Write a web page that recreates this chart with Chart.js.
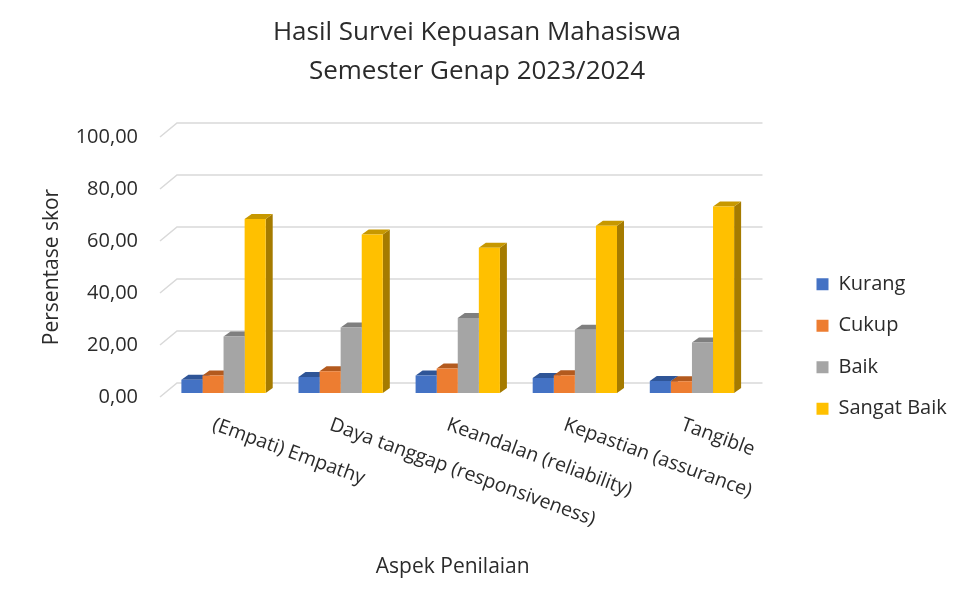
<!DOCTYPE html>
<html>
<head>
<meta charset="utf-8">
<script src="https://cdn.jsdelivr.net/npm/chart.js@4.4.1/dist/chart.umd.min.js"></script>
<style>
  html, body { margin: 0; padding: 0; background: #fff; }
  #wrap { width: 962px; height: 597px; }
</style>
</head>
<body>
<div id="wrap"><canvas id="chart"></canvas></div>
<script>
// categories and series
const aspects = [
    '(Empati) Empathy',
    'Daya tanggap (responsiveness)',
    'Keandalan (reliability)',
    'Kepastian (assurance)',
    'Tangible',
];
const kurang = [5.1, 6.2, 6.7, 5.8, 4.6];
const cukup = [6.7, 8.4, 9.4, 6.8, 4.5];
const baik = [21.7, 25.2, 28.8, 24.3, 19.4];
const sangatBaik = [66.9, 61.0, 55.9, 64.3, 71.7];
const seriesNames = ['Kurang', 'Cukup', 'Baik', 'Sangat Baik'];

const frontColors = ['#4472C4', '#ED7D31', '#A5A5A5', '#FFC000'];
const topColors = ['#2F5597', '#B35A1E', '#7F7F7F', '#C79800'];
const sideColors = ['#2A4C86', '#9E4F1A', '#6E6E6E', '#A57B00'];

const FONT = 'Open Sans';
const TEXT = '#2b2b2b';

// 3d look: back wall offset, bar shift and bar depth
const WALL_DX = 17, WALL_DY = 14;
const SHIFT_X = 5, SHIFT_Y = 4;
const DEPTH_X = 7, DEPTH_Y = 5;

const fmt = v => v.toFixed(2).replace('.', ',');

const bar3d = {
    id: 'bar3d',
    beforeDatasetsDraw(chart) {
        const {ctx, chartArea} = chart;
        const yScale = chart.scales.y;

        // gridlines on the back wall with the little slant on the left
        ctx.save();
        ctx.strokeStyle = '#d9d9d9';
        ctx.lineWidth = 1.5;
        yScale.ticks.forEach(t => {
            const py = yScale.getPixelForValue(t.value);
            ctx.beginPath();
            ctx.moveTo(chartArea.left, py);
            ctx.lineTo(chartArea.left + WALL_DX, py - WALL_DY);
            ctx.lineTo(chartArea.right + WALL_DX, py - WALL_DY);
            ctx.stroke();
        });
        ctx.restore();

        // bars sit a bit behind the front plane
        ctx.save();
        ctx.translate(SHIFT_X, -SHIFT_Y);
        const metas = chart.data.datasets.map((d, i) => chart.getDatasetMeta(i));
        for (let j = 0; j < aspects.length; j++) {
            metas.forEach((meta, i) => {
                const el = meta.data[j];
                const p = el.getProps(['x', 'y', 'base', 'width'], true);
                const l = p.x - p.width / 2, r = p.x + p.width / 2;

                ctx.fillStyle = sideColors[i];
                ctx.beginPath();
                ctx.moveTo(r, p.y);
                ctx.lineTo(r + DEPTH_X, p.y - DEPTH_Y);
                ctx.lineTo(r + DEPTH_X, p.base - DEPTH_Y);
                ctx.lineTo(r, p.base);
                ctx.closePath();
                ctx.fill();

                ctx.fillStyle = topColors[i];
                ctx.beginPath();
                ctx.moveTo(l, p.y);
                ctx.lineTo(l + DEPTH_X, p.y - DEPTH_Y);
                ctx.lineTo(r + DEPTH_X, p.y - DEPTH_Y);
                ctx.lineTo(r, p.y);
                ctx.closePath();
                ctx.fill();
            });
        }
    },
    afterDatasetsDraw(chart) {
        chart.ctx.restore();
    },
    afterDraw(chart) {
        // category labels slanting down to the right
        const {ctx} = chart;
        const xScale = chart.scales.x;
        ctx.save();
        ctx.fillStyle = TEXT;
        ctx.font = '19.5px "' + FONT + '"';
        ctx.textAlign = 'left';
        ctx.textBaseline = 'top';
        aspects.forEach((label, i) => {
            const px = xScale.getPixelForTick(i) - 2;
            ctx.save();
            ctx.translate(px, 415);
            ctx.rotate(20 * Math.PI / 180);
            ctx.fillText(label, 0, 0);
            ctx.restore();
        });
        ctx.restore();
    }
};

new Chart(document.getElementById('chart'), {
    type: 'bar',
    data: {
        labels: aspects,
        datasets: [kurang, cukup, baik, sangatBaik].map((vals, i) => ({
            label: seriesNames[i],
            data: vals,
            backgroundColor: frontColors[i],
            borderWidth: 0,
            barPercentage: 1,
            categoryPercentage: 0.72,
        })),
    },
    options: {
        responsive: true,
        maintainAspectRatio: false,
        animation: false,
        layout: { padding: { right: 8 } },
        plugins: {
            title: {
                display: true,
                text: ['Hasil Survei Kepuasan Mahasiswa', 'Semester Genap 2023/2024'],
                color: TEXT,
                font: { family: FONT, size: 26, weight: 'normal', lineHeight: 1.5 },
                padding: { top: 13.5, bottom: 45.5 },
            },
            legend: {
                position: 'right',
                title: {
                    display: true,
                    text: ' ',
                    font: { size: 10 },
                    padding: { top: 0, bottom: 84 },
                },
                labels: {
                    boxWidth: 12,
                    boxHeight: 12,
                    padding: 21.5,
                    color: TEXT,
                    font: { family: FONT, size: 20 },
                },
            },
            tooltip: { enabled: false },
        },
        scales: {
            x: {
                grid: { display: false, drawTicks: false },
                border: { display: false },
                ticks: { display: false },
                title: {
                    display: true,
                    text: 'Aspek Penilaian',
                    color: TEXT,
                    font: { family: FONT, size: 21 },
                    padding: { top: 0, bottom: 17.4 },
                },
                afterFit(s) { s.height = 200; },
            },
            y: {
                min: 0,
                max: 100,
                grid: { display: false, drawTicks: false },
                border: { display: false },
                ticks: {
                    stepSize: 20,
                    padding: 22,
                    color: TEXT,
                    font: { family: FONT, size: 20 },
                    callback: v => fmt(v),
                },
                title: {
                    display: true,
                    text: 'Persentase skor',
                    color: TEXT,
                    font: { family: FONT, size: 21 },
                    padding: { top: 39.4, bottom: 0 },
                },
                afterFit(s) { s.width = 160; },
            },
            gap: {
                type: 'linear',
                position: 'right',
                grid: { display: false, drawTicks: false },
                border: { display: false },
                ticks: { display: false },
                afterFit(s) { s.width = 49.5; },
            },
        },
    },
    plugins: [bar3d],
});
</script>
</body>
</html>
